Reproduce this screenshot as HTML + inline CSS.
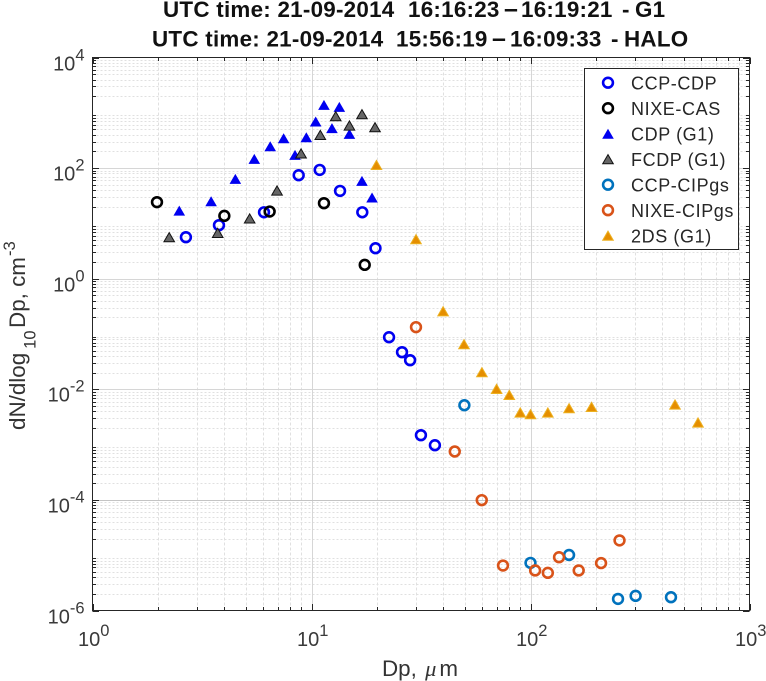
<!DOCTYPE html>
<html>
<head>
<meta charset="utf-8">
<style>
html,body{margin:0;padding:0;background:#fff;width:766px;height:681px;overflow:hidden}
svg{display:block}
text{font-family:"Liberation Sans",Arial,sans-serif}
</style>
</head>
<body>
<svg id="chart" width="766" height="681" viewBox="0 0 766 681" xmlns="http://www.w3.org/2000/svg">
  <g id="grid"></g>
  <g id="ticks"></g>
  <rect x="92.5" y="57.5" width="657" height="553" fill="none" stroke="#262626" stroke-width="1"/>
  <g id="labels"></g>
  <g id="marks"></g>
  <text y="17" font-size="22.4" letter-spacing="0.25" font-weight="bold" fill="#111"><tspan x="163">UTC time: 21-09-2014</tspan><tspan x="408">16:16:23</tspan><tspan x="504" font-size="25">–</tspan><tspan x="521">16:19:21</tspan><tspan x="622">-</tspan><tspan x="635">G1</tspan></text>
  <text y="46.5" font-size="22.4" letter-spacing="0.25" font-weight="bold" fill="#111"><tspan x="152">UTC time: 21-09-2014</tspan><tspan x="396">15:56:19</tspan><tspan x="492" font-size="25">–</tspan><tspan x="510">16:09:33</tspan><tspan x="611">-</tspan><tspan x="624">HALO</tspan></text>
  <text x="382" y="676" font-size="22.4" fill="#333">Dp, <tspan dx="2" font-family="'Liberation Serif',serif" font-style="italic">μ</tspan><tspan dx="3">m</tspan></text>
  <text transform="translate(25,430) rotate(-90)" font-size="22.4" fill="#333">dN/dlog<tspan font-size="16.5" dx="4" dy="10.5">10</tspan><tspan dx="2.5" dy="-10.5">Dp, cm</tspan><tspan font-size="16.5" dx="1" dy="-10">-3</tspan></text>
  <g id="legend">
    <rect x="584.5" y="68.5" width="154" height="181" fill="#fff" stroke="#262626" stroke-width="1"/>
  </g>
</svg>
<script>
const xDecades = [0, 1, 2, 3];
const yDecades = [-6, -4, -2, 0, 2, 4];
const seriesNames = ["CCP-CDP", "NIXE-CAS", "CDP (G1)", "FCDP (G1)", "CCP-CIPgs", "NIXE-CIPgs", "2DS (G1)"];
const ccpCdpX = [2.67, 3.78, 6.07, 8.74, 10.9, 13.5, 17.06, 19.6, 22.6, 25.9, 28.2, 31.6, 36.6];
const ccpCdpY = [5.63, 9.28, 15.9, 74.4, 92.8, 38.7, 15.9, 3.56, 0.0875, 0.0469, 0.0336, 0.00148, 0.000975];
const nixeCasX = [1.97, 4.0, 6.44, 11.4, 17.5];
const nixeCasY = [24.2, 13.7, 16.4, 23.2, 1.78];
const cdpX = [2.49, 3.48, 4.49, 5.48, 6.48, 7.46, 8.41, 9.47, 10.45, 11.4, 12.4, 13.4, 14.9, 17.0, 18.9];
const cdpY = [17, 25.2, 63.8, 147, 249, 347, 173, 362, 696, 1390, 527, 1279, 415, 58.7, 29.4];
const fcdpX = [2.24, 3.73, 5.22, 6.96, 8.96, 10.97, 12.9, 14.9, 17.0, 19.5];
const fcdpY = [5.63, 6.73, 12.3, 39.3, 184, 398, 868, 589, 943, 549];
const ccpCipX = [49.9, 100, 150, 251, 302, 438];
const ccpCipY = [0.00515, 7.26e-6, 1.01e-5, 1.62e-6, 1.84e-6, 1.74e-6];
const nixeCipX = [30, 45.1, 59.9, 74.9, 105, 120, 135, 166, 210, 255];
const nixeCipY = [0.133, 0.00075, 9.9e-5, 6.5e-6, 5.3e-6, 4.8e-6, 9.2e-6, 5.3e-6, 7.2e-6, 1.85e-5];
const twoDsX = [19.8, 30, 39.9, 49.7, 60, 70, 80, 89.8, 100, 120, 150, 190, 457, 582];
const twoDsY = [114, 5.18, 0.258, 0.0654, 0.0204, 0.01017, 0.00792, 0.0038, 0.00355, 0.0038, 0.00455, 0.00481, 0.00531, 0.00251];

const NS = "http://www.w3.org/2000/svg";
const L = 92.5, R = 749.5, T = 57.5, B = 610.5;
function xPos(v) { return L + (Math.log10(v) - 0) / 3 * (R - L); }
function yPos(v) { return B - (Math.log10(v) + 6) / 10 * (B - T); }
function mk(parent, tag, attrs) {
  const el = document.createElementNS(NS, tag);
  for (const k in attrs) el.setAttribute(k, attrs[k]);
  parent.appendChild(el);
  return el;
}
const gridG = document.getElementById("grid");
const tickG = document.getElementById("ticks");
const labelG = document.getElementById("labels");
const marksG = document.getElementById("marks");
const legendG = document.getElementById("legend");

function line(parent, x1, y1, x2, y2, stroke, extra) {
  const attrs = {x1: x1, y1: y1, x2: x2, y2: y2, stroke: stroke, "stroke-width": 1};
  if (extra) attrs["stroke-dasharray"] = extra;
  return mk(parent, "line", attrs);
}
// x grid and ticks
for (let d = 0; d < 3; d++) {
  for (let m = 2; m <= 9; m++) {
    const v = m * Math.pow(10, d);
    const px = Math.round(xPos(v)) + 0.5;
    const g = line(gridG, px, T, px, B, "#e0e0e0", "3 2");
    
    
    line(tickG, px, B, px, B - 3.5, "#262626");
    line(tickG, px, T, px, T + 3.5, "#262626");
  }
}
// y grid and ticks
for (let d = -6; d < 4; d++) {
  for (let m = 2; m <= 9; m++) {
    const v = m * Math.pow(10, d);
    const py = Math.round(yPos(v)) + 0.5;
    const g = line(gridG, L, py, R, py, "#e0e0e0", "2 2");
    
    
    line(tickG, L, py, L + 3.5, py, "#262626");
    line(tickG, R, py, R - 3.5, py, "#262626");
  }
}
xDecades.forEach(function (d) {
  const px = Math.round(xPos(Math.pow(10, d))) + 0.5;
  if (d > 0 && d < 3) {
    const g = line(gridG, px, T, px, B, "#d6d6d6");
    
    
  }
  line(tickG, px, B, px, B - 6.5, "#262626");
  line(tickG, px, T, px, T + 6.5, "#262626");
  const t = mk(labelG, "text", {x: px - 15.5, y: 646, "font-size": 20, fill: "#3a3a3a"});
  
  
  t.textContent = "10";
  mk(t, "tspan", {"font-size": 16.5, dy: -10}).textContent = String(d);
});
yDecades.forEach(function (d) {
  const py = Math.round(yPos(Math.pow(10, d))) + 0.5;
  if (d > -6 && d < 4) {
    const g = line(gridG, L, py, R, py, d === -4 ? "#c4c4c4" : "#d6d6d6");
    
    
  }
  line(tickG, L, py, L + 6.5, py, "#262626");
  line(tickG, R, py, R - 6.5, py, "#262626");
  const t = mk(labelG, "text", {x: 84.5, y: py + 12, "text-anchor": "end", "font-size": 20, fill: "#3a3a3a"});
  
  
  t.textContent = "10";
  mk(t, "tspan", {"font-size": 16.5, dy: -10}).textContent = String(d);
});

function circle(parent, cx, cy, color) {
  return mk(parent, "circle", {cx: cx, cy: cy, r: 4.9, fill: "none", stroke: color, "stroke-width": 2.6});
}
function tri(parent, cx, cy, fill, stroke) {
  const hw = stroke === "none" ? 5.8 : 5.3;
  const hh = stroke === "none" ? 5 : 4.6;
  const pts = (cx - hw) + "," + (cy + hh) + " " + (cx + hw) + "," + (cy + hh) + " " + cx + "," + (cy - hh);
  return mk(parent, "polygon", {points: pts, fill: fill, stroke: stroke, "stroke-width": stroke === "none" ? 0 : 1});
}
const drawCircle = function (color) { return function (p, x, y) { return circle(p, x, y, color); }; };
const drawTri = function (fill, stroke) { return function (p, x, y) { return tri(p, x, y, fill, stroke); }; };
const drawers = [
  drawCircle("#0000f0"),
  drawCircle("#000000"),
  drawTri("#0000f0", "none"),
  drawTri("#666666", "#111111"),
  drawCircle("#0072bd"),
  drawCircle("#d95319"),
  drawTri("#e58e00", "#edb120")
];
const seriesX = [ccpCdpX, nixeCasX, cdpX, fcdpX, ccpCipX, nixeCipX, twoDsX];
const seriesY = [ccpCdpY, nixeCasY, cdpY, fcdpY, ccpCipY, nixeCipY, twoDsY];

seriesNames.forEach(function (name, i) {
  const slug = name.toLowerCase().replace(/[^a-z0-9]+/g, "-").replace(/-$/, "");
  const g = mk(marksG, "g", {});
  
  
  seriesX[i].forEach(function (xv, j) {
    const el = drawers[i](g, xPos(xv), yPos(seriesY[i][j]));
    
    
  });
  const rowY = 82.7 + i * 25.5;
  const mark = drawers[i](legendG, 608, rowY);
  
  
  const t = mk(legendG, "text", {x: 631, y: rowY + 6.8, "font-size": 18, "letter-spacing": 0.6, fill: "#262626"});
  
  
  t.textContent = name;
});
</script>
</body>
</html>
